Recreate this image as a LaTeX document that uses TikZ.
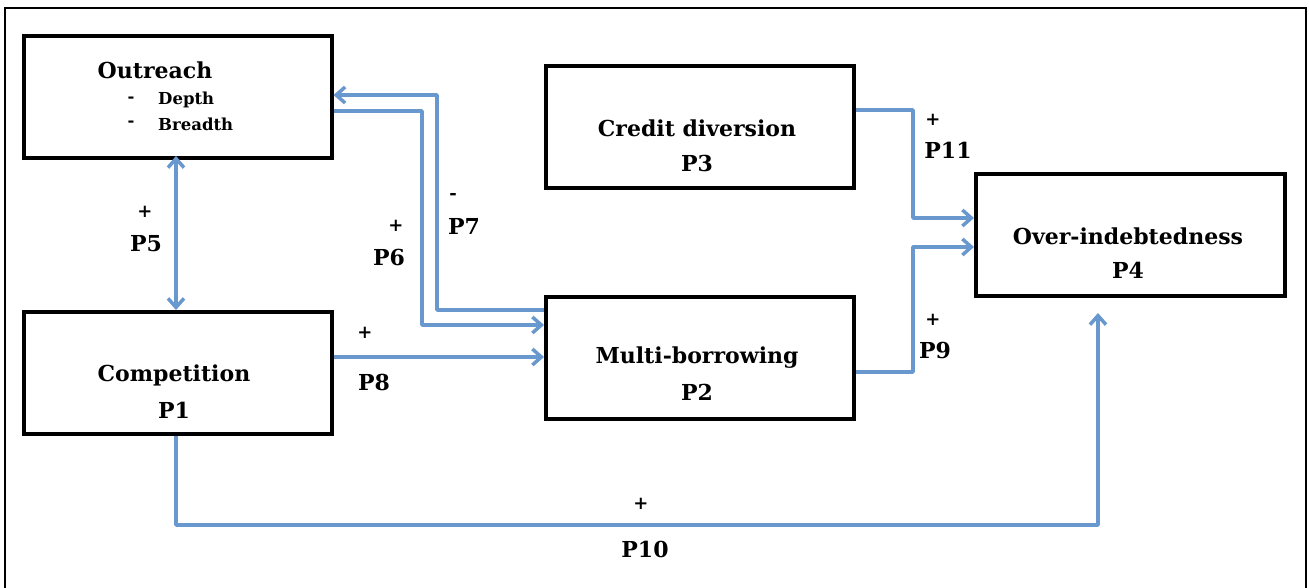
\documentclass[tikz,border=0pt]{standalone}
\usepackage{fontspec}
\setmainfont{DejaVu Serif}
\usetikzlibrary{arrows.meta}
\definecolor{arr}{RGB}{104,152,206}
\tikzset{
  box/.style={draw=black, line width=3.5pt, minimum width=308pt, minimum height=122pt, inner sep=0pt, anchor=north west},
  conn/.style={draw=arr, line width=3.5pt, line join=round, -{Straight Barb[length=9pt,width=16pt,line width=3.5pt]}},
  conn2/.style={draw=arr, line width=3.5pt, line join=round, {Straight Barb[length=9pt,width=16pt,line width=3.5pt]}-{Straight Barb[length=9pt,width=16pt,line width=3.5pt]}},
  big/.style={font=\fontsize{22}{25}\selectfont\bfseries, inner sep=0pt},
  small/.style={font=\fontsize{16.5}{18}\selectfont\bfseries, inner sep=0pt},
  sign/.style={font=\fontsize{18}{20}\selectfont\bfseries, inner sep=0pt}
}
\begin{document}
\begin{tikzpicture}[x=1pt,y=-1pt]
\useasboundingbox (0,0) rectangle (1309,587);
\draw[line width=2.5pt] (5,588) -- (5,8) -- (1306,8) -- (1306,588);
% boxes
\node[box] (out) at (22,34) {};
\node[box] (comp) at (22,310) {};
\node[box] (cred) at (544,64) {};
\node[box] (multi) at (544,295) {};
\node[box, minimum width=309pt] (over) at (974,172) {};
% texts
\node[big] (t1) at (155,70) {Outreach};
\node[small] (t1a) at (131,100) {-};
\node[small, anchor=west] (t1b) at (158,100) {Depth};
\node[small] (t1c) at (131,124) {-};
\node[small, anchor=west] (t1d) at (158,124) {Breadth};
\node[big] (t2) at (174,375) {Competition};
\node[big] (t3) at (174,410) {P1};
\node[big] (t4) at (697,128) {Credit diversion};
\node[big] (t5) at (697,163) {P3};
\node[big] (t6) at (697,358) {Multi-borrowing};
\node[big] (t7) at (697,392) {P2};
\node[big] (t8) at (1128,236) {Over-indebtedness};
\node[big] (t9) at (1128,270) {P4};
% connectors
\coordinate (a5) at (176,156);
\coordinate (b5) at (176,310);
\draw[conn2] (a5) -- (b5);
\draw[conn] (multi.west |- 0,310) -- (437,310) -- (437,95) -- (out.east |- 0,95);
\draw[conn] (out.east |- 0,111) -- (422,111) -- (422,325) -- (multi.west |- 0,325);
\draw[conn] (comp.east |- 0,357) -- (multi.west |- 0,357);
\draw[conn] (cred.east |- 0,110) -- (913,110) -- (913,218) -- (over.west |- 0,218);
\draw[conn] (multi.east |- 0,372) -- (913,372) -- (913,247) -- (over.west |- 0,247);
\coordinate (p10end) at (1098,313);
\draw[conn] (comp.south -| 176,0) -- (176,525) -- (1098,525) -- (p10end);
% labels
\node[sign] (l5a) at (145,212) {+};
\node[big] (l5b) at (146,244) {P5};
\node[sign] (l7a) at (453,196) {-};
\node[big] (l7b) at (464,226) {P7};
\node[sign] (l6a) at (396,226) {+};
\node[big] (l6b) at (389,257) {P6};
\node[sign] (l8a) at (365,333) {+};
\node[big] (l8b) at (374,382) {P8};
\node[sign] (l11a) at (933,120) {+};
\node[big] (l11b) at (948,150) {P11};
\node[sign] (l9a) at (933,320) {+};
\node[big] (l9b) at (935,350) {P9};
\node[sign] (l10a) at (641,504) {+};
\node[big] (l10b) at (645,549) {P10};
\end{tikzpicture}
\end{document}
